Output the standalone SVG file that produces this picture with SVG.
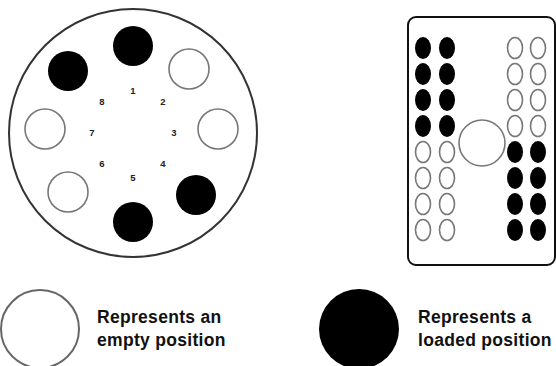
<svg xmlns="http://www.w3.org/2000/svg" width="556" height="366" viewBox="0 0 556 366">
<style>
.empty{fill:#fff;stroke:#777;stroke-width:1.6}
.full{fill:#000;stroke:none}
.num{font-family:"Liberation Sans",Arial,sans-serif;font-weight:bold;font-size:9.5px;fill:#222;text-anchor:middle}
.leg{font-family:"Liberation Sans",Arial,sans-serif;font-weight:bold;font-size:17.5px;fill:#111;letter-spacing:0.3px}
</style>
<rect width="556" height="366" fill="#fff"/>
<g id="carousel">
<circle cx="133" cy="133" r="124" fill="#fff" stroke="#333" stroke-width="2"/>
<circle class="full" cx="133" cy="46" r="20"/>
<circle class="empty" cx="189" cy="69" r="20"/>
<circle class="empty" cx="218" cy="129" r="20"/>
<circle class="full" cx="196" cy="195" r="20"/>
<circle class="full" cx="133" cy="222" r="20"/>
<circle class="empty" cx="68" cy="192" r="20"/>
<circle class="empty" cx="45" cy="129" r="20"/>
<circle class="full" cx="68" cy="71" r="20"/>
<text class="num" x="133" y="94">1</text>
<text class="num" x="163" y="105">2</text>
<text class="num" x="174" y="136">3</text>
<text class="num" x="163" y="167">4</text>
<text class="num" x="133" y="181">5</text>
<text class="num" x="102" y="167">6</text>
<text class="num" x="92" y="136">7</text>
<text class="num" x="102" y="105">8</text>
</g>
<g id="rack">
<rect x="408" y="17" width="147" height="248" rx="8" fill="#fff" stroke="#111" stroke-width="2"/>
<circle class="empty" cx="482" cy="143" r="23"/>
<g id="rack-left">
<ellipse class="full" cx="423" cy="48" rx="8" ry="11"/><ellipse class="full" cx="447" cy="48" rx="8" ry="11"/>
<ellipse class="full" cx="423" cy="74" rx="8" ry="11"/><ellipse class="full" cx="447" cy="74" rx="8" ry="11"/>
<ellipse class="full" cx="423" cy="100" rx="8" ry="11"/><ellipse class="full" cx="447" cy="100" rx="8" ry="11"/>
<ellipse class="full" cx="423" cy="126" rx="8" ry="11"/><ellipse class="full" cx="447" cy="126" rx="8" ry="11"/>
<ellipse class="empty" cx="423" cy="152" rx="7.5" ry="10.5"/><ellipse class="empty" cx="447" cy="152" rx="7.5" ry="10.5"/>
<ellipse class="empty" cx="423" cy="178" rx="7.5" ry="10.5"/><ellipse class="empty" cx="447" cy="178" rx="7.5" ry="10.5"/>
<ellipse class="empty" cx="423" cy="204" rx="7.5" ry="10.5"/><ellipse class="empty" cx="447" cy="204" rx="7.5" ry="10.5"/>
<ellipse class="empty" cx="423" cy="230" rx="7.5" ry="10.5"/><ellipse class="empty" cx="447" cy="230" rx="7.5" ry="10.5"/>
</g>
<g id="rack-right">
<ellipse class="empty" cx="515" cy="48" rx="7.5" ry="10.5"/><ellipse class="empty" cx="538" cy="48" rx="7.5" ry="10.5"/>
<ellipse class="empty" cx="515" cy="74" rx="7.5" ry="10.5"/><ellipse class="empty" cx="538" cy="74" rx="7.5" ry="10.5"/>
<ellipse class="empty" cx="515" cy="100" rx="7.5" ry="10.5"/><ellipse class="empty" cx="538" cy="100" rx="7.5" ry="10.5"/>
<ellipse class="empty" cx="515" cy="126" rx="7.5" ry="10.5"/><ellipse class="empty" cx="538" cy="126" rx="7.5" ry="10.5"/>
<ellipse class="full" cx="515" cy="152" rx="8" ry="11"/><ellipse class="full" cx="538" cy="152" rx="8" ry="11"/>
<ellipse class="full" cx="515" cy="178" rx="8" ry="11"/><ellipse class="full" cx="538" cy="178" rx="8" ry="11"/>
<ellipse class="full" cx="515" cy="204" rx="8" ry="11"/><ellipse class="full" cx="538" cy="204" rx="8" ry="11"/>
<ellipse class="full" cx="515" cy="230" rx="8" ry="11"/><ellipse class="full" cx="538" cy="230" rx="8" ry="11"/>
</g>
</g>
<g id="legend-empty">
<circle cx="40" cy="329" r="39" fill="#fff" stroke="#666" stroke-width="2"/>
<text class="leg" x="97" y="323">Represents an</text>
<text class="leg" x="97" y="346">empty position</text>
</g>
<g id="legend-loaded">
<circle class="full" cx="359" cy="329" r="40"/>
<text class="leg" x="418" y="323">Represents a</text>
<text class="leg" x="418" y="346">loaded position</text>
</g>
<g id="connectors"/>
</svg>
